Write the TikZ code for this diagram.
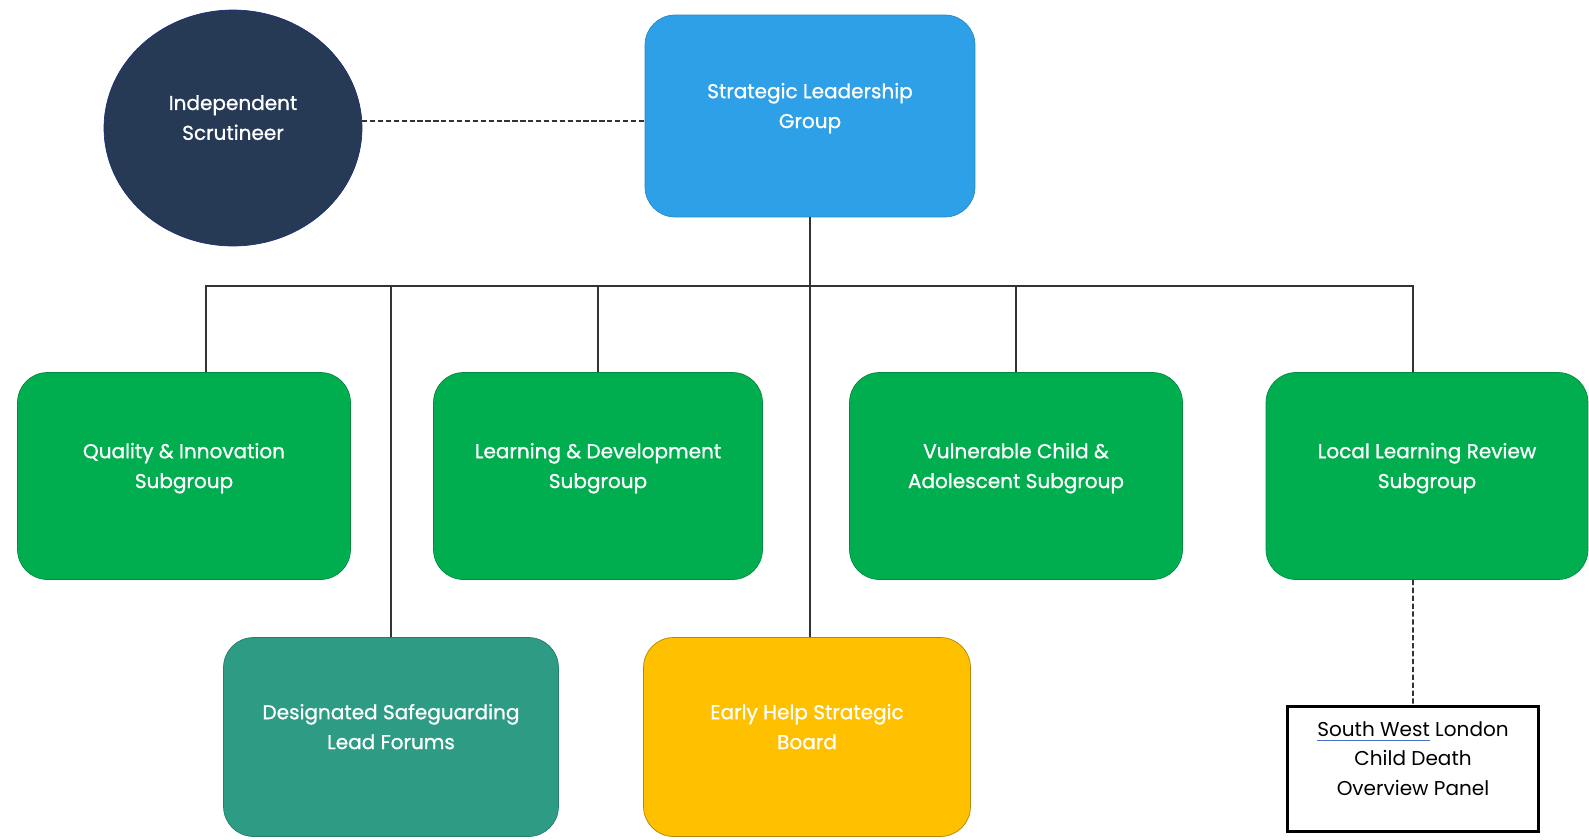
\documentclass[tikz,border=0pt]{standalone}
\usepackage{fontspec}
\setmainfont{Poppins}
\newfontfamily\boxfont[FakeBold=0.9]{Poppins}
\usepackage{tikz}
\usetikzlibrary{shapes,arrows}
\usetikzlibrary{positioning}
\usetikzlibrary{calc}
\definecolor{scrutblue}{HTML}{263A56}
\definecolor{leadblue}{HTML}{2EA0E8}
\definecolor{subgreen}{HTML}{00AE4F}
\definecolor{forumteal}{HTML}{2E9C84}
\definecolor{helpgold}{HTML}{FFC000}
\definecolor{markblue}{HTML}{4472C4}
\tikzstyle{box} = [draw, rounded corners=0.6cm, text=white, align=center,
font=\boxfont\fontsize{11.4}{17}\selectfont, text depth=0.42cm]
\tikzstyle{line} = [draw, line width=1.1pt, color=black!80]
\newlength\ulwd
\newcommand\spellmark[1]{\settowidth\ulwd{#1}\leavevmode\rlap{\textcolor{markblue}{\rule[-3pt]{\ulwd}{1pt}}}#1}

\begin{document}
\begin{tikzpicture}[x=0.02cm, y=-0.02cm,
	subgroup/.style={box, fill=subgreen, draw=subgreen!80!black,
		minimum width=6.66cm, minimum height=4.14cm}]
	\useasboundingbox (0,0) rectangle (1589,839);
	% Top level
	\node [ellipse, fill=scrutblue, draw=scrutblue!80!blue, text=white, align=center,
		font=\boxfont\fontsize{11.4}{17}\selectfont, text depth=0.42cm,
		minimum width=5.16cm, minimum height=4.72cm] at (233,128) (scrut) {Independent\\Scrutineer};
	\node [box, fill=leadblue, draw=leadblue!85!black, minimum width=6.6cm, minimum height=4.04cm]
		at (810,116) (slg) {Strategic Leadership\\Group};
	% Subgroups
	\node [subgroup] at (184,476) (qi) {Quality \& Innovation\\Subgroup};
	\node [subgroup, minimum width=6.58cm] at (598,476) (ld) {Learning \& Development\\Subgroup};
	\node [subgroup] at (1016,476) (vca) {Vulnerable Child \&\\Adolescent Subgroup};
	\node [subgroup, minimum width=6.44cm] at (1427,476) (llr) {Local Learning Review\\Subgroup};
	% Second row
	\node [box, fill=forumteal, draw=forumteal!80!black, minimum width=6.7cm, minimum height=3.98cm]
		at (391,737) (dsl) {Designated Safeguarding\\Lead Forums};
	\node [box, fill=helpgold, draw=helpgold!70!black, minimum width=6.54cm, minimum height=3.98cm]
		at (807,737) (eh) {Early Help Strategic\\Board};
	\node [draw, line width=1.3pt, fill=white, align=center, font=\fontsize{11.4}{17}\selectfont,
		text depth=0.42cm, minimum width=5.02cm, minimum height=2.5cm]
		at (1413,769) (cdop) {\spellmark{South West} London\\Child Death\\Overview Panel};
	%% Links
	\coordinate (bus) at (0,286);
	\coordinate (qitop) at ([xshift=0.44cm]qi.north);
	\coordinate (llrtop) at ([xshift=-0.28cm]llr.north);
	\coordinate (llrbot) at ([xshift=-0.28cm]llr.south);
	\path [line] (qitop) |- (llrtop |- bus) -- (llrtop);
	\path [line] (slg.south) -- (slg.south |- eh.north);
	\path [line] (dsl.north) -- (dsl.north |- bus);
	\path [line] (ld.north) -- (ld.north |- bus);
	\path [line] (vca.north) -- (vca.north |- bus);
	% Dashed links
	\path [line, dash pattern=on 3pt off 1.5pt] (scrut.3) -- (slg.west |- scrut.3);
	\path [line, dash pattern=on 3pt off 1.5pt] (llrbot) -- (cdop.north);
\end{tikzpicture}
\end{document}
